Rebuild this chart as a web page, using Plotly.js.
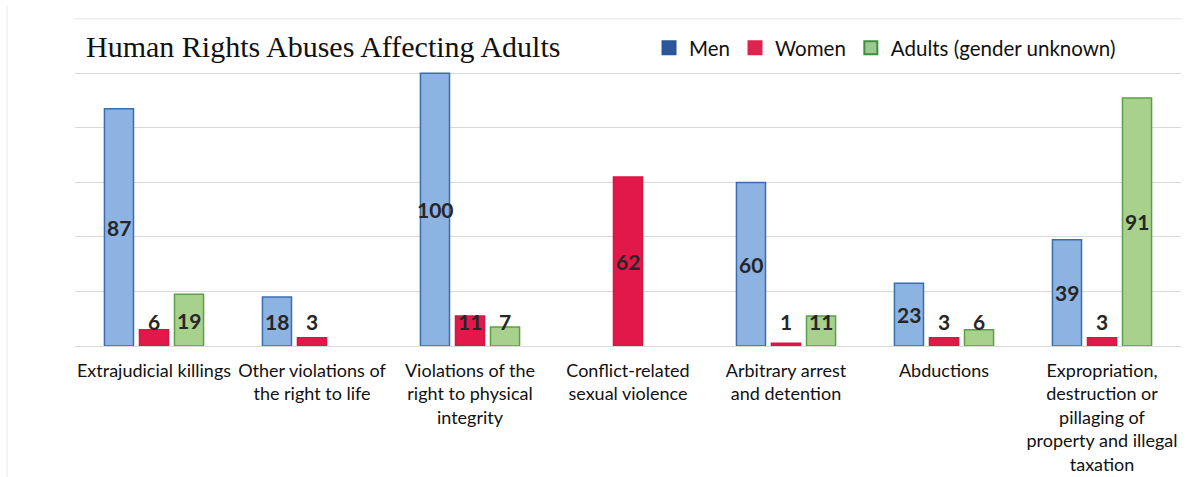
<!DOCTYPE html>
<html>
<head>
<meta charset="utf-8">
<script src="https://cdn.plot.ly/plotly-3.0.1.min.js"></script>
<style>html,body{margin:0;padding:0;background:#fff;}#chart{width:1194px;height:477px;}</style>
</head>
<body>
<div id="chart"></div>
<script>
var categories = [
  "Extrajudicial killings",
  "Other violations of<br>the right to life",
  "Violations of the<br>right to physical<br>integrity",
  "Conflict-related<br>sexual violence",
  "Arbitrary arrest<br>and detention",
  "Abductions",
  "Expropriation,<br>destruction or<br>pillaging of<br>property and illegal<br>taxation"
];
var seriesNames = ["Men", "Women", "Adults (gender unknown)"];
var men = [87, 18, 100, null, 60, 23, 39];
var women = [6, 3, 11, 62, 1, 3, 3];
var unknown = [19, null, 7, null, 11, 6, 91];

var fills = ["#8DB3E2", "#E2184A", "#A9D18E"];
var lines = ["#3A6DB0", "#D81642", "#5E9E4A"];
var legendFills = ["#2C589A", "#E0224E", "#9CC98F"];
var legendLines = ["#2A5599", "#E0224E", "#3F8F3F"];
var allSeries = [men, women, unknown];
var shifts = [-35, 0, 35];

var traces = allSeries.map(function (vals, i) {
  return {
    type: "bar",
    name: seriesNames[i],
    x: categories,
    y: vals,
    showlegend: false,
    marker: { color: fills[i], line: { color: lines[i], width: 1.5 } },
    hoverinfo: "skip"
  };
});
seriesNames.forEach(function (n, i) {
  traces.push({
    type: "scatter", mode: "markers", name: n,
    x: [null], y: [null], showlegend: true, hoverinfo: "skip",
    marker: { symbol: "square", size: 13, color: legendFills[i], line: { color: legendLines[i], width: 2 } }
  });
});

var annotations = [];
allSeries.forEach(function (vals, i) {
  vals.forEach(function (v, j) {
    if (v === null) return;
    annotations.push({
      x: categories[j], y: Math.max(v / 2, 9), xref: "x", yref: "y",
      xshift: shifts[i], text: String(v), showarrow: false,
      font: { family: "Lato, 'Open Sans', sans-serif", size: 21, color: "#262626", weight: "bold" },
      xanchor: "center", yanchor: "middle"
    });
  });
});

var layout = {
  width: 1194, height: 477,
  paper_bgcolor: "#ffffff", plot_bgcolor: "#ffffff",
  margin: { l: 75, r: 13, t: 18, b: 131 },
  title: {
    text: "Human Rights Abuses Affecting Adults",
    font: { family: "'Liberation Serif', 'Times New Roman', serif", size: 30, color: "#111" },
    xref: "container", yref: "container", x: 86 / 1194, xanchor: "left",
    y: 1 - 46 / 477, yanchor: "middle"
  },
  barmode: "group", bargap: 0.335, bargroupgap: 0.17,
  showlegend: true,
  legend: {
    orientation: "h", x: 0.519, xanchor: "left", y: 0.909, yanchor: "middle",
    font: { family: "Lato, 'Open Sans', sans-serif", size: 20.5, color: "#111" },
    bgcolor: "rgba(0,0,0,0)", itemwidth: 30, traceorder: "normal"
  },
  xaxis: {
    type: "category", showgrid: false, zeroline: false, showline: false,
    ticks: "", tickfont: { family: "Lato, 'Open Sans', sans-serif", size: 18, color: "#111" },
    ticklabelstandoff: 12,
    automargin: false
  },
  yaxis: {
    range: [0, 120.3], tickvals: [0, 20, 40, 60, 80, 100, 120], showgrid: true, gridcolor: "#d9d9d9", gridwidth: 1,
    zeroline: true, zerolinecolor: "#d9d9d9", zerolinewidth: 1,
    showticklabels: false, ticks: "", fixedrange: true
  },
  shapes: [{
    type: "line", xref: "paper", yref: "paper",
    x0: (7 - 75) / 1106, x1: (7 - 75) / 1106, y0: -131 / 328, y1: (346 - 5) / 328,
    line: { color: "#ececec", width: 1 }
  }, {
    type: "line", xref: "paper", yref: "y", layer: "below",
    x0: 0, x1: 1, y0: 120, y1: 120,
    line: { color: "#e3e3e3", width: 1 }
  }],
  annotations: annotations
};

Plotly.newPlot("chart", traces, layout, { displayModeBar: false, staticPlot: true });
</script>
</body>
</html>
